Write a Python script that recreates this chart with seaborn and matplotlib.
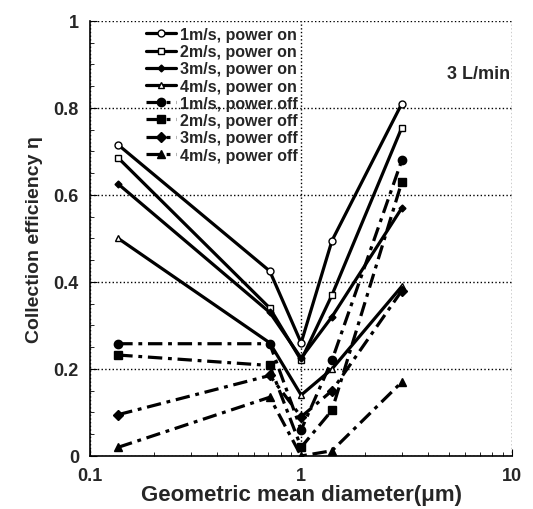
import numpy as np
import pandas as pd
import seaborn as sns
import matplotlib.pyplot as plt
from matplotlib.ticker import FixedLocator, NullFormatter

sns.set_style("ticks")
plt.rcParams['font.family'] = ['Liberation Sans', 'DejaVu Sans']
plt.rcParams['font.weight'] = 'bold'

# geometric mean diameter (um)
diam = [0.136, 0.71, 1.0, 1.4, 3.0]

# collection efficiency, power on
on_1 = [0.715, 0.425, 0.26, 0.495, 0.81]
on_2 = [0.685, 0.34, 0.22, 0.37, 0.755]
on_3 = [0.625, 0.33, 0.225, 0.32, 0.57]
on_4 = [0.50, 0.26, 0.14, 0.20, 0.39]
# collection efficiency, power off
off_1 = [0.258, 0.258, 0.06, 0.22, 0.68]
off_2 = [0.232, 0.208, 0.02, 0.105, 0.63]
off_3 = [0.095, 0.185, 0.09, 0.15, 0.38]
off_4 = [0.02, 0.135, 0.0, 0.012, 0.17]

labels = ['1m/s, power on', '2m/s, power on', '3m/s, power on', '4m/s, power on',
          '1m/s, power off', '2m/s, power off', '3m/s, power off', '4m/s, power off']
series = [on_1, on_2, on_3, on_4, off_1, off_2, off_3, off_4]
markers = ['o', 's', 'D', '^', 'o', 's', 'D', '^']
msizes = [5, 5, 3.5, 5, 6, 6, 5, 6]

yticks = [0, 0.2, 0.4, 0.6, 0.8, 1.0]
ytick_labels = ['0', '0.2', '0.4', '0.6', '0.8', '1']

rows = []
for lab, vals in zip(labels, series):
    for d, v in zip(diam, vals):
        rows.append({'d': d, 'eff': v, 'series': lab})
df = pd.DataFrame(rows)

fig = plt.figure(figsize=(5.33, 5.10), dpi=100)
ax = fig.add_axes([0.169, 0.104, 0.792, 0.853])

for i, lab in enumerate(labels):
    sub = df[df['series'] == lab]
    off = 'off' in lab
    face = 'black' if off else 'white'
    if markers[i] == 'D' and not off:
        face = 'black'
    sns.lineplot(data=sub, x='d', y='eff', ax=ax, color='black', lw=2.3,
                 marker=markers[i], markersize=msizes[i], markerfacecolor=face,
                 markeredgecolor='black', markeredgewidth=1.0,
                 label=lab, sort=False)
    if off:
        ax.lines[-1].set_dashes([4.5, 1.8, 1.2, 1.8])

ax.set_xscale('log')
ax.set_xlim(0.1, 10)
ax.set_ylim(0, 1)
ax.xaxis.set_major_locator(FixedLocator([0.1, 1, 10]))
ax.set_xticklabels(['0.1', '1', '10'])
ax.xaxis.set_minor_locator(FixedLocator([k * 10.0 ** e for e in (-1, 0) for k in range(2, 10)]))
ax.xaxis.set_minor_formatter(NullFormatter())
ax.set_yticks(yticks)
ax.set_yticklabels(ytick_labels)
ax.yaxis.set_minor_locator(FixedLocator(np.arange(0.05, 1.0, 0.05)))

ax.grid(True, which='major', linestyle=':', color='black', lw=1.0)
for s in ['top', 'right']:
    ax.spines[s].set_visible(False)
for s in ['left', 'bottom']:
    ax.spines[s].set_color('black')
    ax.spines[s].set_linewidth(1.2)
ax.tick_params(which='both', direction='in', color='black')
ax.tick_params(which='major', length=5, labelsize=13, pad=8)
ax.tick_params(which='minor', length=3)

ax.set_xlabel('Geometric mean diameter(\u03bcm)', fontsize=16, fontweight='bold', labelpad=0)
ax.set_ylabel('Collection efficiency \u03b7', fontsize=14, fontweight='bold', labelpad=8)
ax.text(0.995, 0.88, '3 L/min', transform=ax.transAxes, ha='right', va='center',
        fontsize=13, fontweight='bold')

leg = ax.legend(loc='upper left', bbox_to_anchor=(0.105, 1.012), frameon=False,
                fontsize=11.5, handlelength=1.9, handletextpad=0.25,
                labelspacing=0.14, borderpad=0.2)
for t in leg.get_texts():
    t.set_fontweight('bold')

fig.savefig('out.png', dpi=100)
